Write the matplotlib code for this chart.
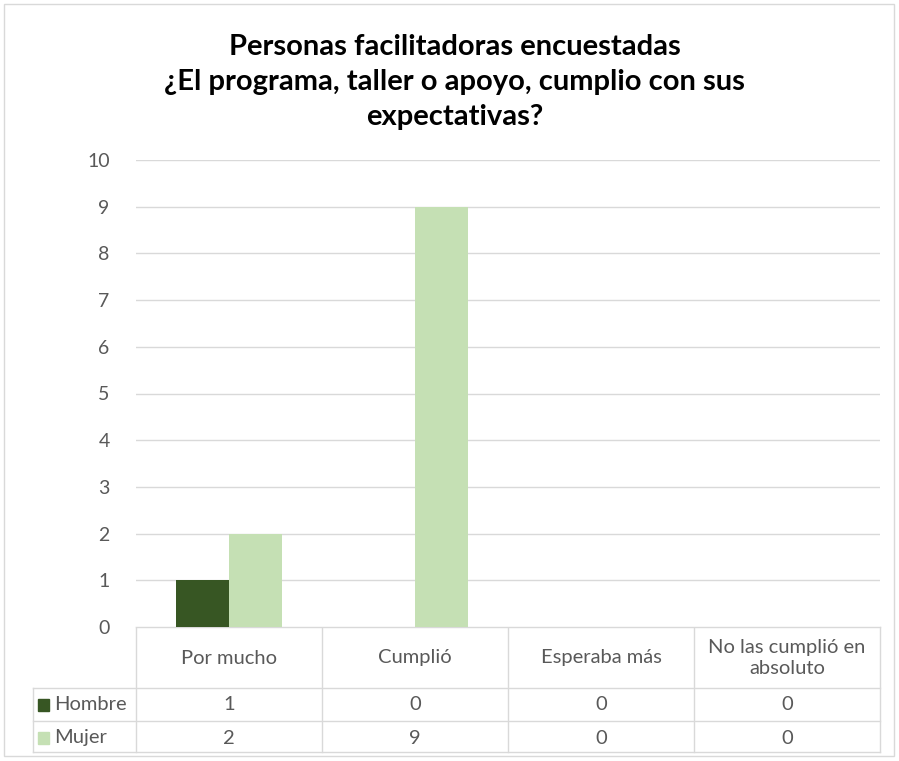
import matplotlib
matplotlib.use("Agg")
import matplotlib.pyplot as plt
import numpy as np

categories = ["Por mucho", "Cumplió", "Esperaba más", "No las cumplió en\nabsoluto"]
series_names = ["Hombre", "Mujer"]
hombre = [1, 0, 0, 0]
mujer = [2, 9, 0, 0]
colors = ["#375623", "#C5E0B4"]
title = "Personas facilitadoras encuestadas\n¿El programa, taller o apoyo, cumplio con sus\nexpectativas?"

plt.rcParams['font.family'] = ['Lato', 'DejaVu Sans']

W, H = 899, 761
fig = plt.figure(figsize=(W / 100, H / 100), dpi=100)

# overlay axes in pixel coordinates
ov = fig.add_axes([0, 0, 1, 1])
ov.set_xlim(0, W)
ov.set_ylim(H, 0)
ov.axis("off")

# plot area
x0, x1, ytop, ybot = 136, 880, 160, 627
ax = fig.add_axes([x0 / W, (H - ybot) / H, (x1 - x0) / W, (ybot - ytop) / H])
n = len(categories)
x = np.arange(n)
bw = 0.285
ax.bar(x - bw / 2, hombre, bw, color=colors[0], zorder=3)
ax.bar(x + bw / 2, mujer, bw, color=colors[1], zorder=3)
ax.set_xlim(-0.5, n - 0.5)
ax.set_ylim(0, 10)
ax.set_yticks(range(0, 11))
ax.yaxis.grid(True, color="#d9d9d9", linewidth=1)
ax.set_axisbelow(True)
for s in ax.spines.values():
    s.set_visible(False)
ax.tick_params(axis="y", length=0, pad=19, labelsize=14, labelcolor="#595959")
ax.set_xticks([])

# title
ov.text(W / 2 + 5, 82, title, ha="center", va="center", fontsize=21, fontweight="bold",
        color="#000000", linespacing=1.45)

# table
lc = "#d9d9d9"
rows_y = [627, 688, 721, 752]
ov.plot([x0, x1], [627, 627], color=lc, lw=1)
for yy in rows_y[1:]:
    ov.plot([33, x1], [yy, yy], color=lc, lw=1)
cw = (x1 - x0) / n
for i in range(n + 1):
    xx = x0 + i * cw
    ov.plot([xx, xx], [627, 752], color=lc, lw=1)
ov.plot([33, 33], [688, 752], color=lc, lw=1)

tc = "#595959"
fs = 14.5
for i, c in enumerate(categories):
    cx = x0 + (i + 0.5) * cw
    ov.text(cx, 658, c, ha="center", va="center", fontsize=fs, color=tc, linespacing=1.35)
    ov.text(cx, 705, str(hombre[i]), ha="center", va="center", fontsize=fs, color=tc)
    ov.text(cx, 738, str(mujer[i]), ha="center", va="center", fontsize=fs, color=tc)

for name, col, yy in zip(series_names, colors, [705, 738]):
    ov.add_patch(plt.Rectangle((38, yy - 6), 11, 12, color=col))
    ov.text(54, yy, name, ha="left", va="center", fontsize=fs, color=tc)

# outer border
ov.add_patch(plt.Rectangle((4, 4), W - 9, H - 9, fill=False, edgecolor="#d9d9d9", lw=1))

fig.savefig("out.png", dpi=100)
